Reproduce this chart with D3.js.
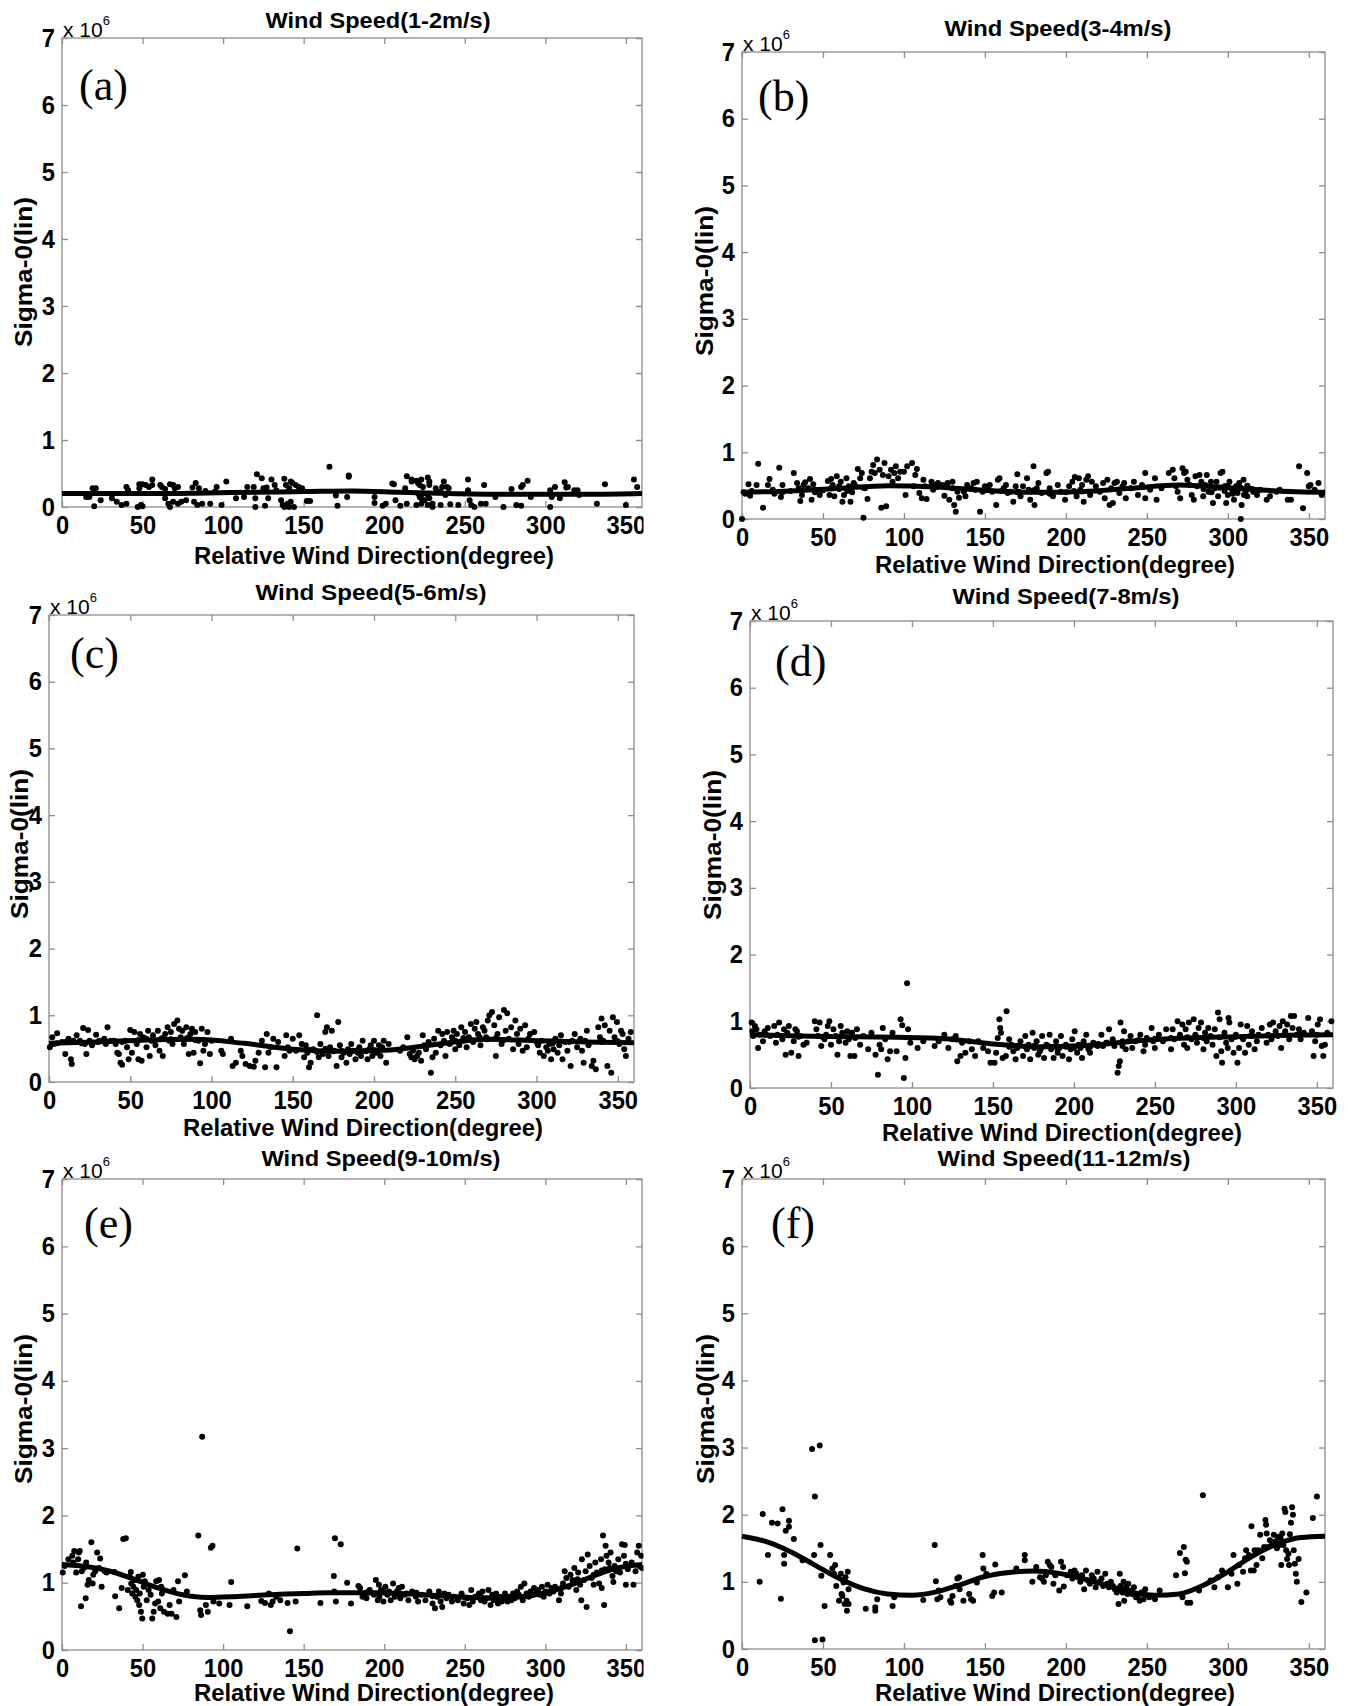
<!DOCTYPE html>
<html><head><meta charset="utf-8">
<script src="https://cdn.jsdelivr.net/npm/d3@7/dist/d3.min.js"></script>
<style>body{margin:0;background:#fff}</style>
</head><body>
<svg id="chart" width="1348" height="1706"></svg>
<script>
// ---------------- DATA (relative wind direction [deg], sigma-0 [x10^6]) ----------------
const titles = ["Wind Speed(1-2m/s)","Wind Speed(3-4m/s)","Wind Speed(5-6m/s)","Wind Speed(7-8m/s)","Wind Speed(9-10m/s)","Wind Speed(11-12m/s)"];
const letters = ["(a)","(b)","(c)","(d)","(e)","(f)"];
const xTicks = [0,50,100,150,200,250,300,350];
const yTicks = [0,1,2,3,4,5,6,7];
const xLabel = "Relative Wind Direction(degree)";
const yLabel = "Sigma-0(lin)";

const fitAnglesCoarse = [0,30,60,90,120,150,180,210,240,270,300,330,360];
const fitAnglesFine = [0,15,30,45,60,75,90,105,120,135,150,165,180,195,210,225,240,255,270,285,300,315,330,345,360];

const fitA = [0.20,0.20,0.20,0.21,0.22,0.23,0.24,0.22,0.20,0.19,0.19,0.19,0.20];
const fitB = [0.40,0.42,0.46,0.50,0.48,0.43,0.40,0.41,0.46,0.51,0.47,0.42,0.40];
const fitC = [0.58,0.60,0.63,0.64,0.58,0.49,0.46,0.48,0.57,0.64,0.62,0.60,0.59];
const fitD = [0.80,0.78,0.77,0.76,0.74,0.66,0.62,0.64,0.71,0.75,0.77,0.79,0.80];
const fitE = [1.27,1.24,1.17,1.05,0.92,0.82,0.78,0.79,0.81,0.83,0.84,0.85,0.85,0.85,0.84,0.82,0.80,0.78,0.77,0.79,0.85,0.96,1.10,1.22,1.27];
const fitF = [1.68,1.60,1.45,1.25,1.05,0.90,0.82,0.80,0.85,0.96,1.08,1.14,1.16,1.13,1.05,0.95,0.85,0.80,0.82,0.95,1.15,1.38,1.56,1.66,1.68];

const pointsA = [[19,0.28],[21,0.28],[15,0.15],[17,0.15],[24,0.10],[20,0.01],[31,0.13],[34,0.08],[40,0.30],[41,0.25],[37,0.03],[40,0.05],[48,0.34],[48,0.28],[50,0.34],[52,0.33],[54,0.30],[56,0.41],[56,0.33],[61,0.33],[47,0.0],[49,0.03],[50,0.01],[62,0.30],[64,0.27],[67,0.34],[69,0.33],[70,0.28],[72,0.30],[64,0.13],[66,0.05],[67,0.0],[69,0.08],[72,0.05],[74,0.08],[81,0.29],[83,0.36],[85,0.28],[89,0.24],[77,0.10],[82,0.08],[84,0.03],[87,0.05],[92,0.05],[96,0.30],[95,0.23],[99,0.03],[102,0.38],[108,0.13],[113,0.15],[115,0.30],[119,0.30],[121,0.49],[124,0.43],[125,0.28],[127,0.29],[130,0.41],[132,0.33],[133,0.25],[120,0.13],[120,0.0],[126,0.02],[128,0.13],[138,0.42],[139,0.33],[141,0.28],[142,0.38],[143,0.36],[145,0.33],[147,0.30],[149,0.28],[136,0.10],[137,0.03],[138,0.0],[140,0.05],[141,0.0],[142,0.08],[144,0.0],[152,0.09],[154,0.09],[166,0.60],[171,0.02],[170,0.17],[177,0.15],[178,0.47],[178,0.45],[194,0.15],[194,0.06],[199,0.02],[201,0.05],[205,0.35],[206,0.34],[207,0.10],[210,0.02],[214,0.05],[213,0.28],[214,0.46],[217,0.41],[217,0.38],[220,0.39],[221,0.36],[222,0.33],[223,0.41],[224,0.30],[228,0.38],[227,0.44],[228,0.33],[232,0.28],[235,0.23],[238,0.18],[221,0.20],[222,0.15],[223,0.13],[224,0.20],[225,0.10],[227,0.18],[228,0.13],[220,0.03],[223,0.05],[227,0.03],[230,0.05],[230,0.0],[235,0.03],[236,0.30],[237,0.38],[239,0.30],[240,0.28],[241,0.04],[246,0.03],[252,0.41],[252,0.25],[253,0.10],[254,0.03],[256,0.0],[260,0.05],[263,0.05],[262,0.33],[269,0.15],[274,0.0],[279,0.27],[282,0.03],[285,0.02],[285,0.30],[286,0.33],[289,0.39],[291,0.15],[303,0.25],[304,0.15],[303,0.0],[306,0.30],[309,0.13],[312,0.37],[313,0.29],[314,0.30],[318,0.25],[320,0.25],[321,0.18],[332,0.05],[337,0.34],[350,0.03],[355,0.41],[357,0.30]];

const pointsB = [[0,0.0],[1,0.40],[2,0.38],[6,0.42],[4,0.52],[5,0.35],[9,0.51],[10,0.83],[13,0.17],[16,0.51],[17,0.60],[19,0.44],[20,0.38],[23,0.77],[24,0.33],[25,0.51],[25,0.40],[30,0.42],[32,0.69],[34,0.54],[35,0.46],[36,0.27],[37,0.36],[38,0.51],[39,0.55],[41,0.46],[42,0.60],[43,0.29],[44,0.52],[45,0.44],[45,0.40],[48,0.36],[50,0.43],[53,0.57],[54,0.36],[55,0.60],[55,0.46],[56,0.51],[57,0.34],[58.5,0.64],[60,0.49],[60,0.45],[61,0.56],[62,0.26],[63,0.36],[64.5,0.61],[65,0.42],[66,0.49],[67,0.26],[68,0.40],[69,0.54],[70,0.50],[71.5,0.75],[73,0.61],[74,0.69],[75,0.02],[75,0.47],[76,0.46],[77.5,0.30],[79,0.61],[80,0.71],[81,0.81],[82,0.69],[83.4,0.89],[85,0.74],[86,0.17],[87,0.66],[88,0.84],[89,0.19],[90.5,0.64],[92,0.74],[93,0.56],[94,0.69],[95,0.79],[96.4,0.61],[97.6,0.71],[100,0.71],[101,0.36],[102,0.79],[105,0.84],[106,0.49],[107,0.66],[108,0.75],[109.5,0.39],[111,0.31],[112,0.59],[113,0.49],[114,0.30],[117,0.56],[118,0.44],[119,0.51],[120,0.48],[121,0.54],[124,0.51],[125,0.35],[127,0.54],[128,0.29],[130,0.56],[130,0.46],[131,0.21],[132,0.11],[133,0.41],[134,0.32],[137,0.41],[138,0.34],[139,0.51],[140,0.47],[141.5,0.46],[143,0.54],[144,0.44],[145,0.56],[147,0.11],[148.6,0.41],[150,0.49],[150,0.45],[152,0.44],[153,0.51],[154.5,0.41],[157,0.21],[158,0.59],[159,0.61],[160,0.42],[161.6,0.46],[163,0.51],[164,0.39],[166,0.41],[167.5,0.26],[169,0.49],[170,0.67],[170,0.40],[171,0.41],[172,0.34],[173.5,0.49],[176,0.61],[177,0.44],[178,0.29],[180,0.79],[180,0.43],[180.6,0.21],[182,0.46],[183,0.54],[185,0.39],[188,0.69],[189,0.71],[190,0.46],[190,0.38],[192,0.34],[195,0.51],[197,0.41],[199.5,0.29],[200,0.40],[202,0.49],[204,0.56],[205,0.42],[205.5,0.63],[206.6,0.34],[208,0.61],[209,0.44],[210,0.51],[211,0.26],[212.6,0.59],[213.7,0.64],[215,0.36],[216,0.56],[218.5,0.49],[221,0.41],[223,0.54],[224,0.31],[225.6,0.59],[227,0.21],[228,0.46],[229,0.24],[230,0.54],[231.5,0.56],[233,0.39],[235,0.49],[236,0.54],[237,0.31],[240,0.46],[242,0.56],[244.5,0.36],[247,0.51],[249,0.69],[249,0.31],[252,0.44],[255,0.61],[256,0.29],[259,0.46],[263.5,0.69],[266,0.74],[267,0.61],[268,0.49],[269,0.41],[270.6,0.31],[272,0.76],[273,0.69],[274,0.71],[275,0.59],[276.5,0.51],[277.7,0.36],[279,0.29],[280,0.64],[281,0.49],[282.5,0.66],[283.6,0.56],[284.8,0.34],[285,0.45],[286,0.51],[287,0.66],[288,0.41],[289.6,0.56],[290,0.40],[290.8,0.24],[292,0.46],[293,0.56],[294,0.34],[295,0.47],[295.5,0.69],[296.7,0.71],[298,0.49],[298,0.42],[299,0.24],[300,0.36],[300,0.50],[301,0.56],[302.6,0.44],[303,0.38],[303.8,0.29],[305,0.49],[305,0.44],[306,0.39],[307,0.54],[308,0.0],[308,0.47],[308.5,0.21],[309.7,0.59],[310,0.36],[311,0.41],[312,0.34],[312,0.50],[313,0.46],[315,0.45],[315.6,0.41],[318,0.36],[318,0.42],[320,0.44],[324,0.29],[326,0.34],[330,0.41],[332,0.44],[337,0.29],[339,0.29],[344,0.79],[346.4,0.16],[349,0.69],[350,0.49],[351,0.51],[353.6,0.44],[356,0.54],[358,0.36]];

const pointsC = [[0.5,0.52],[2,0.67],[3,0.57],[5,0.73],[5,0.58],[8,0.60],[10,0.42],[10,0.60],[12,0.65],[13.5,0.34],[14,0.27],[15,0.62],[17,0.70],[19,0.62],[20,0.58],[21,0.81],[22,0.57],[23,0.42],[24,0.78],[25,0.62],[26.5,0.55],[29,0.71],[30,0.60],[31,0.62],[34,0.65],[35,0.57],[36,0.82],[38,0.62],[40,0.62],[41,0.57],[42,0.44],[43,0.42],[44,0.29],[45,0.26],[45,0.60],[47,0.62],[48,0.52],[49,0.34],[50,0.78],[51,0.44],[52.5,0.75],[54,0.57],[55,0.34],[55,0.63],[56,0.72],[57,0.32],[58,0.67],[60,0.52],[60,0.65],[61,0.77],[62,0.39],[63,0.62],[64,0.70],[65,0.62],[65.5,0.55],[67,0.77],[68,0.47],[69,0.65],[70,0.39],[70,0.66],[71.5,0.72],[73,0.82],[74,0.62],[75,0.75],[75,0.64],[76,0.57],[77,0.87],[79,0.92],[80,0.80],[81,0.67],[82,0.77],[83,0.57],[84.5,0.82],[85,0.66],[86,0.42],[87,0.72],[88,0.80],[89,0.44],[90,0.75],[90,0.63],[92,0.62],[93,0.28],[94,0.80],[95,0.47],[96,0.57],[97.5,0.75],[99,0.42],[100,0.62],[106,0.47],[107,0.42],[112,0.65],[113,0.24],[115,0.29],[118,0.47],[119,0.39],[121,0.27],[123.5,0.24],[126,0.23],[127,0.32],[129,0.44],[131,0.62],[133,0.22],[134,0.72],[135,0.44],[136.5,0.52],[138,0.65],[140,0.22],[141,0.60],[145,0.39],[146,0.70],[147,0.52],[148,0.47],[150,0.65],[152,0.47],[154,0.70],[155.5,0.57],[157,0.37],[158,0.55],[159,0.44],[160,0.22],[160,0.48],[161,0.29],[162.6,0.49],[164,0.47],[165,1.0],[165,0.45],[166,0.37],[167,0.57],[168.5,0.42],[170,0.75],[170,0.50],[171,0.82],[172,0.39],[173,0.52],[174,0.77],[175,0.46],[175.6,0.47],[177,0.24],[178,0.90],[179,0.55],[180,0.37],[180,0.47],[181.5,0.44],[183,0.29],[184,0.49],[185,0.42],[185,0.45],[186,0.57],[187,0.47],[188.6,0.34],[190,0.44],[190,0.48],[191,0.52],[192,0.39],[193,0.62],[194.5,0.47],[195,0.46],[196,0.34],[197,0.49],[198,0.55],[199,0.39],[200,0.62],[200,0.48],[201.6,0.44],[203,0.55],[204,0.39],[205,0.52],[206,0.62],[207.5,0.29],[209,0.57],[216,0.47],[218,0.52],[220.5,0.67],[222,0.42],[223,0.37],[224,0.47],[225,0.34],[226.5,0.39],[227.6,0.44],[229,0.32],[230,0.70],[231,0.55],[232,0.49],[233.6,0.60],[235,0.14],[236,0.37],[237,0.65],[238,0.44],[239.5,0.77],[241,0.55],[242,0.72],[243,0.62],[244,0.39],[245,0.75],[246.6,0.57],[248,0.67],[249,0.77],[250,0.49],[250,0.62],[251,0.72],[252.5,0.55],[253.7,0.82],[255,0.62],[255,0.66],[256,0.75],[257,0.52],[258.4,0.67],[259.6,0.87],[260,0.63],[261,0.60],[262,0.80],[263,0.90],[264,0.72],[265,0.67],[265.5,0.55],[267,0.82],[268,0.77],[269,0.67],[270,0.92],[270,0.64],[271,1.0],[272.6,1.05],[274,0.85],[275,0.39],[275,0.66],[276,0.72],[277,0.97],[278.5,0.57],[280,1.08],[280,0.63],[281,0.77],[282,1.03],[283,0.65],[284.4,0.82],[285.6,0.49],[287,0.92],[288,0.72],[289,0.57],[290,0.80],[291.5,0.47],[293,0.85],[294,0.52],[295,0.65],[296,0.72],[298.6,0.75],[300,0.60],[301,0.55],[302,0.44],[303,0.62],[304.5,0.39],[306,0.52],[307,0.47],[308,0.57],[309,0.34],[310,0.58],[310.5,0.49],[311.6,0.65],[313,0.44],[314,0.55],[315,0.70],[316,0.34],[317.6,0.60],[319,0.47],[320,0.60],[321,0.24],[322,0.62],[323.5,0.72],[325,0.52],[327,0.65],[328,0.47],[329,0.29],[330,0.62],[331,0.77],[332,0.55],[334,0.24],[335,0.32],[336.5,0.19],[338,0.82],[339,0.67],[340,0.95],[340,0.60],[341,0.62],[342,0.85],[343.6,0.24],[345,0.77],[346,0.14],[347,0.97],[348,0.67],[349.5,0.90],[350,0.61],[351,0.57],[352,0.77],[353,0.72],[354,0.49],[355,0.39],[356.6,0.65],[358,0.75]];

const pointsD = [[1,0.98],[1.4,0.85],[2,0.78],[3,0.93],[4,0.88],[5,0.60],[6,0.80],[8,0.70],[9,0.85],[10,0.80],[11,0.90],[12.5,0.78],[15,0.93],[16,0.68],[17,0.80],[18,0.98],[20,0.73],[20,0.78],[21,0.88],[22,0.50],[23,0.83],[24,0.93],[25.5,0.53],[27,0.70],[28,0.88],[29,0.85],[30,0.48],[30,0.77],[31,0.78],[33,0.65],[35,0.68],[40,1.0],[41,0.88],[42,0.78],[43,0.98],[44,0.63],[45,0.76],[46,0.73],[47,0.80],[48,0.93],[49,1.0],[50,0.65],[51.5,0.88],[53,0.78],[54,0.50],[55,0.70],[55,0.77],[56,0.93],[57,0.83],[59,0.68],[60,0.85],[61,0.73],[62,0.48],[63,0.83],[64.5,0.48],[65,0.75],[66,0.88],[68,0.65],[70,0.78],[73,0.58],[75,0.83],[77.5,0.50],[79,0.20],[80,0.65],[81,0.58],[82,0.90],[83.5,0.73],[85,0.43],[86.5,0.55],[88,0.83],[90.5,0.55],[93,1.03],[94,0.94],[95,0.15],[96,0.45],[97,1.57],[97.6,0.88],[99,0.68],[103.5,0.60],[107,0.70],[114,0.63],[116.5,0.70],[120,0.80],[122.5,0.60],[125,0.73],[127,0.78],[128,0.40],[130,0.48],[131,0.68],[133,0.53],[135.5,0.70],[137,0.58],[139,0.48],[141,0.70],[144,0.60],[147,0.55],[148.5,0.38],[151,0.38],[152,0.53],[153,0.75],[154,1.03],[154.5,0.90],[155,0.83],[156,0.45],[158,0.48],[158.4,1.15],[160,0.73],[160,0.62],[161.5,0.65],[162.6,0.55],[164,0.43],[165,0.63],[165,0.60],[167,0.70],[168.6,0.48],[170,0.78],[170,0.62],[171,0.58],[172,0.65],[173,0.43],[174.5,0.83],[175,0.63],[175.6,0.60],[177,0.70],[178,0.50],[179,0.55],[180,0.60],[180.4,0.78],[181.6,0.45],[183,0.65],[184,0.63],[185,0.80],[185,0.62],[186,0.58],[187.5,0.45],[189,0.70],[190,0.53],[190,0.58],[191,0.60],[192,0.78],[193,0.48],[195,0.65],[195,0.62],[197,0.43],[198,0.58],[199,0.73],[200,0.60],[200.5,0.85],[202,0.53],[203,0.65],[204,0.60],[205,0.45],[205,0.63],[206,0.70],[207.6,0.80],[209,0.58],[210,0.53],[210,0.62],[212,0.68],[214.7,0.63],[215,0.66],[217,0.80],[218,0.63],[220,0.68],[220.6,0.68],[221.7,0.88],[224,0.73],[225,0.63],[227,0.23],[227.7,0.33],[228.4,0.40],[228.8,0.98],[230,0.63],[230,0.70],[231,0.85],[232,0.58],[233.6,0.70],[235,0.78],[236,0.60],[238,0.70],[240,0.72],[241,0.80],[243,0.55],[244,0.65],[245,0.75],[248,0.90],[249,0.70],[250,0.60],[250,0.74],[252.5,0.80],[255,0.70],[257,0.88],[260,0.58],[260,0.75],[261,0.88],[262,0.73],[264,1.0],[265.5,0.80],[267,0.95],[268,0.65],[269,0.88],[270,0.60],[270,0.76],[271,0.98],[272.6,0.73],[274,1.03],[275,0.80],[276,0.68],[277,0.90],[278.5,0.98],[280,0.58],[280,0.75],[281,0.83],[282,0.70],[283,0.90],[284.4,0.78],[285.6,0.65],[287,0.88],[288,0.48],[289,1.13],[290,1.03],[290,0.76],[291,0.55],[291.5,0.38],[293,0.83],[294,0.68],[295,0.60],[295.5,1.05],[296,0.98],[297.4,0.73],[298.6,0.53],[300,0.80],[300,0.77],[301,0.38],[302,0.60],[303,0.95],[304.5,0.73],[305.7,0.53],[307,0.93],[308,0.65],[309,0.78],[310,0.85],[310,0.78],[311.6,0.58],[313,0.70],[314,0.80],[316,0.90],[319,0.68],[320,0.80],[320,0.79],[321,0.95],[322,0.73],[323,0.98],[324.6,0.85],[326,0.78],[327,0.93],[328,0.60],[329,1.0],[330,0.80],[330.5,0.85],[331.7,0.95],[333,0.73],[334,1.08],[335,0.90],[336,1.08],[337.6,0.80],[339,0.88],[340,0.73],[340,0.81],[342,0.83],[344.7,1.05],[347,0.85],[348,0.48],[349,0.70],[350,0.80],[350.6,0.95],[352,1.03],[353,0.63],[354,0.48],[355,0.65],[356.5,0.83],[359,1.0]];

const pointsE = [[0.5,1.15],[1.7,1.25],[4,1.35],[6.4,1.40],[7,1.30],[7.6,1.47],[8.8,1.15],[10,1.35],[10.4,1.45],[11,1.47],[11.8,0.65],[12.3,1.17],[13.5,1.22],[14.7,0.77],[15,1.30],[15.9,0.97],[16.6,1.04],[18.2,1.60],[19,0.99],[19.4,1.12],[20.6,1.17],[21.8,1.45],[23,1.22],[23.7,1.36],[24.6,0.94],[26.5,1.17],[27.7,1.15],[32.5,1.16],[33,0.80],[35.5,0.62],[37,0.92],[38,1.65],[39.6,1.66],[40.8,0.89],[42,1.09],[42.7,1.16],[43,0.99],[43.6,0.84],[44.3,0.94],[45,1.04],[45.5,0.79],[46,0.89],[46.7,0.74],[47.4,1.09],[47.9,0.67],[48.3,0.84],[49,0.57],[49.8,0.47],[50.2,1.12],[50.7,0.94],[51.4,1.02],[52.6,0.74],[53.8,0.89],[55,0.82],[56,0.47],[56.9,0.57],[57.8,0.69],[58.5,1.02],[59.7,0.72],[60.2,1.04],[61,0.62],[61.6,0.94],[62,0.84],[63.3,0.57],[65.6,0.54],[66.8,0.67],[68,0.54],[69.2,0.89],[71,0.49],[72,1.02],[72.7,0.72],[76.3,1.11],[77.5,0.87],[84.6,1.70],[85.8,0.59],[86.3,0.52],[87,3.17],[89.3,0.67],[90.5,0.57],[92.4,1.52],[93.4,1.55],[94,0.72],[97.6,0.69],[104,0.67],[105,1.01],[115,0.65],[123.7,0.73],[126,0.70],[128.4,0.84],[129.6,0.67],[130.8,0.72],[133,0.79],[135.5,0.74],[140,0.70],[141.5,0.28],[145,0.72],[146,1.51],[160.4,0.70],[168.7,1.10],[169,0.87],[169.4,1.66],[170,0.72],[173,1.57],[177,1.00],[179.4,0.69],[184,0.95],[185,0.92],[186.5,0.79],[187.7,0.84],[189,0.77],[190,0.87],[190,0.85],[191,0.89],[193.6,0.82],[194.8,1.04],[196,0.74],[196.7,0.97],[197,0.79],[198,0.89],[199.5,0.72],[200,0.86],[200.7,0.94],[202,0.82],[203,0.87],[204,0.74],[205.5,0.99],[206.6,0.79],[207.8,0.87],[209,0.92],[210,0.77],[210,0.84],[211,0.94],[212.6,0.82],[213.7,0.84],[215,0.74],[217.3,0.87],[219.7,0.79],[220,0.85],[221,0.72],[223,0.82],[225.6,0.74],[228,0.87],[230,0.69],[230,0.80],[231.5,0.62],[232.7,0.79],[233.9,0.87],[235,0.72],[236,0.64],[237.4,0.84],[238.6,0.77],[240,0.82],[240,0.80],[242,0.72],[243.4,0.79],[245.7,0.74],[248,0.84],[249.3,0.69],[250,0.78],[251.7,0.77],[252.8,0.67],[254,0.89],[255,0.72],[256.4,0.79],[258.8,0.84],[260,0.74],[260,0.79],[261,0.87],[262.3,0.72],[263.5,0.77],[264.7,0.89],[266,0.67],[267,0.82],[268,0.74],[269.4,0.84],[270,0.77],[270.6,0.69],[271.8,0.79],[273,0.72],[274,0.77],[275,0.84],[276.5,0.72],[277.7,0.79],[279,0.74],[280,0.84],[280,0.78],[281,0.77],[282.5,0.87],[283.6,0.82],[284.8,0.94],[286,0.74],[287,0.99],[288.4,0.84],[289.6,0.79],[290,0.80],[290.8,0.87],[292,0.82],[293,0.92],[294.3,0.84],[295.5,0.89],[296.7,0.82],[297.9,0.94],[299,0.79],[300,0.85],[300.2,0.87],[301.4,0.97],[302.6,0.84],[303.8,0.92],[305,0.87],[306,0.94],[308.5,0.74],[309.7,0.84],[310,0.92],[311,0.99],[312,1.17],[313,1.07],[314.5,0.94],[315.6,1.12],[316.8,1.04],[318,1.22],[319.2,0.89],[320,1.05],[320.4,1.15],[321.6,0.97],[322.3,0.74],[322.7,1.35],[324,1.04],[325,1.17],[325.6,0.64],[326.3,1.42],[327.5,1.25],[328.7,1.07],[330,0.97],[330,1.12],[331,1.30],[332,1.15],[333.4,0.99],[334.6,1.35],[335,0.92],[335,1.18],[335.8,1.70],[336.5,0.67],[337,1.20],[337.4,1.55],[338,1.40],[339.3,1.30],[340,1.22],[340.5,1.45],[341.7,1.10],[342.2,1.01],[343,1.25],[344,1.17],[345,1.20],[345.3,1.35],[346.4,1.15],[347.6,1.57],[348.8,1.40],[349.3,1.56],[350,0.97],[350,1.28],[351.2,1.20],[353.6,1.30],[354.7,0.97],[356,1.17],[357,1.45],[358,1.55],[358.3,1.25],[359.5,1.40],[360,1.22]];

const pointsF = [[10.9,1.0],[12.8,2.01],[16,1.40],[18.5,1.88],[22,1.87],[24,0.75],[25,2.08],[26,1.27],[26,1.40],[27,1.76],[29,1.91],[29,1.82],[32,1.64],[37.4,1.32],[43.3,2.98],[44.5,1.40],[45,0.13],[45,2.27],[48,3.03],[48.5,1.55],[49,1.09],[49.7,0.14],[51,0.64],[54.4,1.40],[55.8,1.20],[56.8,1.12],[57.5,1.25],[58.2,0.94],[59.9,0.72],[61,1.12],[61.5,0.82],[62,0.79],[62.7,0.99],[63.4,0.67],[63.9,1.07],[64.6,0.72],[64.8,0.57],[65.3,1.15],[65.8,0.89],[65.8,0.67],[76.4,0.60],[82.3,0.62],[82.3,0.57],[83.5,0.74],[93,0.64],[94,0.77],[111.9,0.73],[119,1.55],[119.7,1.01],[120.6,0.74],[121.4,0.87],[122.5,0.77],[128.5,0.72],[129.2,0.69],[130,0.79],[132,0.94],[133,1.05],[134,1.07],[134.4,0.89],[136.7,0.72],[140.3,0.82],[141.5,0.74],[142.7,0.72],[145,0.99],[148.6,1.40],[149,1.20],[150.9,1.12],[154.5,0.79],[155.7,0.84],[156.4,1.26],[160.4,0.84],[169.4,1.20],[174.6,1.40],[174.6,1.32],[179.3,1.0],[181.7,1.22],[184,1.07],[185.2,1.05],[186.4,1.0],[187.6,1.10],[188.8,1.30],[190,1.25],[191,1.22],[192.3,0.97],[193.5,1.10],[195.9,0.87],[197,1.30],[198.3,1.22],[198.7,0.93],[200.6,1.10],[203,1.15],[204,1.05],[205.3,1.17],[206.5,1.12],[207.7,1.07],[208.9,1.0],[210,1.10],[211.3,0.89],[212.4,1.17],[213.6,1.02],[214.8,0.97],[216,1.10],[217.2,1.05],[218.4,0.92],[219.5,1.15],[220.7,1.0],[222,1.05],[223,0.94],[224.3,1.12],[225.5,0.97],[226.6,0.92],[227.8,1.0],[229,0.94],[230.2,0.89],[231.4,0.84],[232.5,0.67],[233.3,1.12],[233.7,0.94],[234.2,0.87],[235,0.84],[235.6,1.0],[236,0.72],[236.6,0.89],[237.3,0.94],[238,0.82],[238.5,0.97],[239.6,0.87],[240.8,0.82],[242,0.92],[243.2,0.77],[244.4,0.79],[245.6,0.72],[246.7,0.84],[248,0.74],[249,0.89],[251.5,0.77],[252.7,0.79],[255,0.74],[257.9,0.87],[268,1.10],[270.4,1.43],[272,0.77],[272.8,1.52],[273.5,1.13],[274,1.33],[274.7,1.30],[275,0.69],[276.8,0.69],[282.2,0.87],[284.6,2.29],[289.3,1.02],[291.7,0.92],[294,1.07],[296.4,1.17],[300,0.92],[302.3,1.12],[303.5,1.40],[305.9,0.97],[307,1.25],[309.4,1.15],[310.6,1.35],[311.3,1.47],[313,1.40],[314.2,1.17],[314.6,1.83],[316,1.17],[316.5,1.47],[317.7,1.25],[318.9,1.47],[320,1.70],[321.3,1.35],[322.4,1.52],[323.2,1.92],[323.6,1.85],[324,1.72],[324.8,1.52],[326,1.62],[327.2,1.55],[328.4,1.70],[329.5,1.60],[330.3,1.50],[330.7,1.67],[332,1.55],[332.6,1.65],[333,1.25],[333.6,1.72],[334.3,1.55],[335,2.09],[335.5,2.04],[336,1.47],[336.6,1.34],[337.4,1.42],[337.8,1.25],[338.3,1.71],[339,1.88],[339.7,2.11],[340.2,2.0],[340.7,1.47],[341.4,1.27],[342,1.12],[342.6,1.0],[343.7,1.34],[345.4,0.70],[348.5,0.84],[352.5,1.95],[355,2.27]];

const seriesPoints = [pointsA,pointsB,pointsC,pointsD,pointsE,pointsF];
const seriesFit = [fitA,fitB,fitC,fitD,fitE,fitF];
const seriesFitAngles = [fitAnglesCoarse,fitAnglesCoarse,fitAnglesCoarse,fitAnglesCoarse,fitAnglesFine,fitAnglesFine];

// ---------------- LAYOUT (pixels) ----------------
const layouts = [
  {x0:62,  x1:642,  yTop:38,   yBot:507,  title:[378,28],   titleW:225, xl:[374,564],   yl:[24,272],  letter:[79,100],  clipRight:643.5},
  {x0:742, x1:1325, yTop:52,   yBot:519,  title:[1058,36],  titleW:227, xl:[1055,573],  yl:[705,281], letter:[758,111]},
  {x0:49,  x1:634,  yTop:615,  yBot:1082, title:[371,600],  titleW:231, xl:[363,1136],  yl:[20,844],  letter:[70,668]},
  {x0:750, x1:1333, yTop:621,  yBot:1088, title:[1066,604], titleW:227, xl:[1062,1141], yl:[713,845], letter:[775,676]},
  {x0:62,  x1:642,  yTop:1179, yBot:1650, title:[381,1166], titleW:239, xl:[374,1701],  yl:[24,1409], letter:[84,1238], clipRight:643.5},
  {x0:742, x1:1325, yTop:1179, yBot:1649, title:[1064,1166],titleW:253, xl:[1055,1701], yl:[706,1409],letter:[771,1238]}
];

const SANS = "'Liberation Sans', Arial, Helvetica, sans-serif";
const SERIF = "'Liberation Serif', 'Times New Roman', serif";
const BOX = "#8c8c8c";

const svg = d3.select("#chart");
const defs = svg.append("defs");

layouts.forEach((L, i) => {
  let g = svg.append("g");
  if (L.clipRight) {
    defs.append("clipPath").attr("id", "clip" + i)
      .append("rect").attr("x", 0).attr("y", L.yTop - 60).attr("width", L.clipRight).attr("height", L.yBot - L.yTop + 140);
    g.attr("clip-path", `url(#clip${i})`);
  }
  const x = d3.scaleLinear().domain([0, 360]).range([L.x0, L.x1]);
  const y = d3.scaleLinear().domain([0, 7]).range([L.yBot, L.yTop]);

  // box
  g.append("rect").attr("x", L.x0).attr("y", L.yTop).attr("width", L.x1 - L.x0).attr("height", L.yBot - L.yTop)
    .attr("fill", "none").attr("stroke", BOX).attr("stroke-width", 1.3);

  const styleAxis = sel => {
    sel.select(".domain").remove();
    sel.selectAll(".tick line").attr("stroke", BOX).attr("stroke-width", 1.3);
    sel.selectAll(".tick text").attr("fill", "#000").style("font-family", SANS).style("font-weight", "bold").style("font-size", "25px")
      .attr("textLength", function() { return this.textContent.length * 13.2; }).attr("lengthAdjust", "spacingAndGlyphs");
  };
  g.append("g").attr("transform", `translate(0,${L.yBot})`)
    .call(d3.axisBottom(x).tickValues(xTicks).tickFormat(d3.format("d")).tickSizeInner(-6).tickSizeOuter(0).tickPadding(9)).call(styleAxis);
  g.append("g").attr("transform", `translate(0,${L.yTop})`)
    .call(d3.axisTop(x).tickValues(xTicks).tickSizeInner(-6).tickSizeOuter(0).tickFormat("")).call(styleAxis);
  g.append("g").attr("transform", `translate(${L.x0},0)`)
    .call(d3.axisLeft(y).tickValues(yTicks).tickFormat(d3.format("d")).tickSizeInner(-6).tickSizeOuter(0).tickPadding(7)).call(styleAxis);
  g.append("g").attr("transform", `translate(${L.x1},0)`)
    .call(d3.axisRight(y).tickValues(yTicks).tickSizeInner(-6).tickSizeOuter(0).tickFormat("")).call(styleAxis);

  // scatter points
  g.append("g").selectAll("circle").data(seriesPoints[i]).join("circle")
    .attr("cx", d => x(d[0])).attr("cy", d => y(d[1])).attr("r", 3).attr("fill", "#000");

  // fitted curve
  const angles = seriesFitAngles[i];
  const line = d3.line().x((d, k) => x(angles[k])).y(d => y(d)).curve(d3.curveMonotoneX);
  g.append("path").attr("d", line(seriesFit[i])).attr("fill", "none").attr("stroke", "#000").attr("stroke-width", 5);

  // x 10^6
  const ex = g.append("text").attr("x", L.x0 + 1).attr("y", L.yTop - 1).style("font-family", SANS).style("font-size", "21px").attr("fill", "#000");
  ex.append("tspan").text("x 10");
  ex.append("tspan").attr("dy", -12).style("font-size", "13px").text("6");

  // panel letter
  g.append("text").attr("x", L.letter[0]).attr("y", L.letter[1]).style("font-family", SERIF).style("font-size", "44px").attr("fill", "#000").text(letters[i]);

  // title
  svg.append("text").attr("x", L.title[0]).attr("y", L.title[1]).attr("text-anchor", "middle")
    .style("font-family", SANS).style("font-weight", "bold").style("font-size", "22px")
    .attr("textLength", L.titleW).attr("lengthAdjust", "spacingAndGlyphs").text(titles[i]);

  // x label
  svg.append("text").attr("x", L.xl[0]).attr("y", L.xl[1]).attr("text-anchor", "middle")
    .style("font-family", SANS).style("font-weight", "bold").style("font-size", "24px")
    .attr("textLength", 360).attr("lengthAdjust", "spacingAndGlyphs").text(xLabel);

  // y label
  svg.append("text").attr("transform", `translate(${L.yl[0]},${L.yl[1]}) rotate(-90)`).attr("text-anchor", "middle").attr("dy", "0.35em")
    .style("font-family", SANS).style("font-weight", "bold").style("font-size", "24px")
    .attr("textLength", 150).attr("lengthAdjust", "spacingAndGlyphs").text(yLabel);
});
</script>
</body></html>
